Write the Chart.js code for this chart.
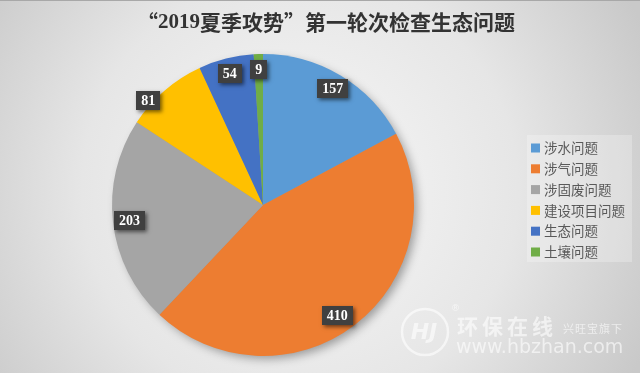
<!DOCTYPE html>
<html><head><meta charset="utf-8">
<script src="https://cdn.jsdelivr.net/npm/chart.js@4.4.1/dist/chart.umd.min.js"></script>
<style>html,body{margin:0;padding:0;background:#ddd;}#wrap{width:640px;height:373px;}</style>
</head><body><div id="wrap"><canvas id="c" width="640" height="373"></canvas></div>
<script>
const titleParts = ['“', '2019', '夏季攻势', '”', '第一轮次检查生态问题'];
const categories = ['涉水问题','涉气问题','涉固废问题','建设项目问题','生态问题','土壤问题'];
const values = [157, 410, 203, 81, 54, 9];
const colors = ['#5B9BD5','#ED7D31','#A5A5A5','#FFC000','#4472C4','#70AD47'];
const labelRadius = [0.9, 0.88, 0.89, 1.027, 0.9, 0.9];
const labelAngleShift = [0, 3.4, 0, -7, 0, 0];

const bgPlugin = {
  id: 'bg',
  beforeDraw(chart) {
    const ctx = chart.ctx, w = chart.width, h = chart.height;
    ctx.save();
    const g = ctx.createRadialGradient(300, 190, 20, 300, 190, 380);
    g.addColorStop(0, '#f6f6f6');
    g.addColorStop(0.55, '#e6e6e6');
    g.addColorStop(1, '#c9c9c9');
    ctx.fillStyle = g;
    ctx.fillRect(0, 0, w, h);
    ctx.fillStyle = '#a8a8a8';
    ctx.fillRect(0, 0, w, 1);
    // title, drawn in parts (serif digits, CJK glyphs)
    const fonts = [
      'bold 21px "Noto Sans CJK SC", sans-serif',
      'bold 21px "Liberation Serif", serif',
      'bold 21px "Noto Sans CJK SC", sans-serif',
      'bold 21px "Noto Sans CJK SC", sans-serif',
      'bold 21px "Noto Sans CJK SC", sans-serif'
    ];
    let widths = titleParts.map((t, i) => { ctx.font = fonts[i]; return ctx.measureText(t).width; });
    const total = widths.reduce((a, b) => a + b, 0);
    let x = 326 - total / 2;
    ctx.fillStyle = '#333333';
    ctx.textAlign = 'left';
    ctx.textBaseline = 'middle';
    titleParts.forEach((t, i) => {
      ctx.font = fonts[i];
      ctx.fillText(t, x, i === 1 ? 23 : 22);
      x += widths[i];
    });
    ctx.restore();
  },
  beforeDatasetsDraw(chart) {
    const meta = chart.getDatasetMeta(0);
    const a = meta.data[0];
    if (!a) return;
    const ctx = chart.ctx;
    ctx.save();
    ctx.shadowColor = 'rgba(0,0,0,0.35)';
    ctx.shadowBlur = 10;
    ctx.shadowOffsetX = 4;
    ctx.shadowOffsetY = 4;
    ctx.fillStyle = '#999';
    ctx.beginPath();
    ctx.arc(a.x, a.y, a.outerRadius - 1, 0, Math.PI * 2);
    ctx.fill();
    ctx.restore();
  },
  afterDatasetsDraw(chart) {
    const meta = chart.getDatasetMeta(0);
    const ctx = chart.ctx;
    ctx.save();
    ctx.font = 'bold 14px "Liberation Serif", serif';
    ctx.textAlign = 'center';
    ctx.textBaseline = 'middle';
    meta.data.forEach((arc, i) => {
      const mid = (arc.startAngle + arc.endAngle) / 2 + labelAngleShift[i] * Math.PI / 180;
      const r = arc.outerRadius * labelRadius[i];
      const x = arc.x + Math.cos(mid) * r;
      const y = arc.y + Math.sin(mid) * r;
      const txt = String(values[i]);
      const tw = ctx.measureText(txt).width;
      const bw = tw + 10, bh = 19;
      ctx.save();
      ctx.shadowColor = 'rgba(0,0,0,0.55)';
      ctx.shadowBlur = 4;
      ctx.shadowOffsetX = 2;
      ctx.shadowOffsetY = 2;
      ctx.fillStyle = '#404040';
      ctx.fillRect(Math.round(x - bw / 2), Math.round(y - bh / 2), Math.round(bw), bh);
      ctx.restore();
      ctx.fillStyle = '#ffffff';
      ctx.fillText(txt, x, y + 1);
    });
    ctx.restore();
  },
  afterDraw(chart) {
    const ctx = chart.ctx;
    ctx.save();
    // legend
    ctx.fillStyle = 'rgba(255,255,255,0.25)';
    ctx.fillRect(527, 135, 105, 127);
    ctx.font = '13.5px "Noto Sans CJK SC", sans-serif';
    ctx.textAlign = 'left';
    ctx.textBaseline = 'middle';
    categories.forEach((c, i) => {
      const y = 148 + i * 20.8;
      ctx.fillStyle = colors[i];
      ctx.fillRect(531, y - 4.5, 9, 9);
      ctx.fillStyle = '#595959';
      ctx.fillText(c, 544, y);
    });
    // watermark
    ctx.globalAlpha = 0.6;
    ctx.strokeStyle = '#ffffff';
    ctx.fillStyle = '#ffffff';
    ctx.lineWidth = 2.5;
    ctx.beginPath();
    ctx.arc(425, 332, 23, 0, Math.PI * 2);
    ctx.stroke();
    ctx.font = 'italic bold 22px "DejaVu Sans", sans-serif';
    ctx.textAlign = 'center';
    ctx.textBaseline = 'middle';
    ctx.fillText('HJ', 424, 333);
    ctx.textAlign = 'left';
    ctx.font = 'bold 21px "Noto Sans CJK SC", sans-serif';
    ctx.letterSpacing = '4px';
    ctx.fillText('环保在线', 457, 326);
    ctx.font = '11px "Noto Sans CJK SC", sans-serif';
    ctx.letterSpacing = '1px';
    ctx.fillText('兴旺宝旗下', 563, 329);
    ctx.letterSpacing = '0px';
    ctx.font = '19px "DejaVu Sans", sans-serif';
    ctx.fillText('www.hbzhan.com', 456, 348);
    ctx.font = '9px "DejaVu Sans", sans-serif';
    ctx.fillText('®', 451, 309);
    ctx.restore();
  }
};

new Chart(document.getElementById('c'), {
  type: 'pie',
  data: {
    labels: categories,
    datasets: [{
      data: values,
      backgroundColor: colors,
      borderWidth: 0,
      hoverOffset: 0
    }]
  },
  options: {
    responsive: false,
    animation: false,
    radius: 151,
    layout: { padding: { left: 0, right: 114, top: 53, bottom: 16 } },
    plugins: {
      legend: { display: false },
      title: { display: false },
      tooltip: { enabled: false }
    }
  },
  plugins: [bgPlugin]
});
</script>
</body></html>
